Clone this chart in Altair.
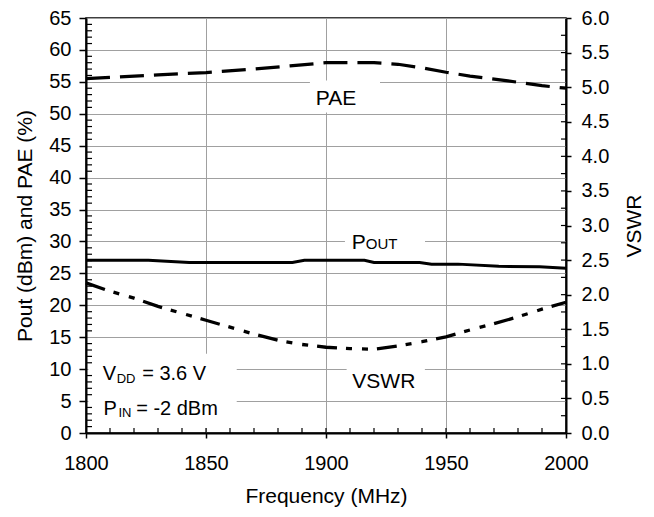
import altair as alt
import pandas as pd

FONT = "Liberation Sans"

# ---- series ----
freq_pout = [1800, 1826, 1843, 1886, 1891, 1916, 1920, 1939, 1944, 1955, 1972, 1989, 2000]
pout = [27.05, 27.05, 26.7, 26.7, 27.05, 27.05, 26.7, 26.7, 26.45, 26.45, 26.1, 26.05, 25.8]

freq_pae = [1800, 1830, 1850, 1870, 1885, 1900, 1920, 1930, 1940, 1950, 1960, 1975, 1990, 2000]
pae = [55.5, 56.1, 56.45, 57.0, 57.5, 58.0, 58.0, 57.75, 57.2, 56.5, 55.9, 55.2, 54.4, 54.0]

freq_vswr = [1800, 1810, 1820, 1830, 1840, 1850, 1860, 1870, 1880, 1890, 1900,
             1910, 1920, 1930, 1940, 1950, 1960, 1970, 1980, 1990, 2000]
vswr = [2.17, 2.05, 1.95, 1.83, 1.73, 1.63, 1.53, 1.43, 1.34, 1.28, 1.24,
        1.22, 1.21, 1.26, 1.32, 1.39, 1.49, 1.58, 1.68, 1.79, 1.89]

# ---- axes ----
x_ticks = [1800, 1850, 1900, 1950, 2000]
yl_ticks = [0, 5, 10, 15, 20, 25, 30, 35, 40, 45, 50, 55, 60, 65]
yr_ticks = [0.0, 0.5, 1.0, 1.5, 2.0, 2.5, 3.0, 3.5, 4.0, 4.5, 5.0, 5.5, 6.0]
left_minor = [v for v in range(1, 65) if v % 5]
bottom_minor = [1810, 1820, 1830, 1840, 1850, 1860, 1870, 1880, 1890, 1900,
                1910, 1920, 1930, 1940, 1950, 1960, 1970, 1980, 1990]
right_minor = [q * 0.25 for q in range(1, 24)]

# ---- annotations ----
center_text = ["PAE", "VSWR"]
center_f = [1904.2, 1924.1]
center_v = [51.3, 6.97]

piece_text = ["P", "OUT", "V", "DD", "= 3.6 V", "P", "IN", "= -2 dBm"]
piece_f = [1910.7, 1916.6, 1807.0, 1812.8, 1823.4, 1807.3, 1813.5, 1820.9]
piece_v = [28.84, 28.84, 8.26, 7.9, 8.26, 2.8, 2.55, 2.8]
piece_size = [21, 15, 20, 13, 20, 20, 13, 20]

# white label backgrounds that interrupt the grid
box_f1 = [1893.3, 1907.9, 1908.6, 1801.0]
box_f2 = [1922.5, 1941.25, 1941.2, 1862.8]
box_v1 = [50.2, 28.2, 5.6, 0.8]
box_v2 = [55.2, 31.8, 11.5, 12.4]

xscale = alt.Scale(domain=[1800, 2000], nice=False, zero=False)
ylscale = alt.Scale(domain=[0, 65], nice=False)
yrscale = alt.Scale(domain=[0, 6], nice=False)

xaxis = alt.Axis(values=x_ticks, title="Frequency (MHz)", grid=True, tickSize=5,
                 labelPadding=15, titlePadding=12, format="d", labelOverlap=False,
                 labelFlush=False)
ylaxis = alt.Axis(values=yl_ticks, title="Pout (dBm) and PAE (%)", grid=True, tickSize=7,
                  labelPadding=8, titlePadding=13, orient="left", labelOverlap=False,
                  labelFlush=False)
yraxis = alt.Axis(values=yr_ticks, title="VSWR", grid=False, tickSize=5, labelPadding=10,
                  titlePadding=15, orient="right", format=".1f", titleAngle=270,
                  titleBaseline="top", labelOverlap=False, labelFlush=False)

X = lambda f: alt.X(f, type="quantitative", scale=xscale, axis=xaxis)
YL = lambda f: alt.Y(f, type="quantitative", scale=ylscale, axis=ylaxis)
YR = lambda f: alt.Y(f, type="quantitative", scale=yrscale, axis=yraxis)

boxes = alt.Chart(pd.DataFrame({"f": box_f1, "f2": box_f2, "v": box_v1, "v2": box_v2})).mark_rect(
    color="white").encode(x=X("f"), x2="f2", y=YL("v"), y2="v2")

lticks = alt.Chart(pd.DataFrame({"v": left_minor, "f": [1800] * len(left_minor),
                                 "f2": [1802.5] * len(left_minor)})).mark_rule(
    color="black", strokeWidth=1.2).encode(x=X("f"), x2="f2", y=YL("v"))

bticks = alt.Chart(pd.DataFrame({"f": bottom_minor, "v": [0] * len(bottom_minor),
                                 "v2": [0.78] * len(bottom_minor)})).mark_rule(
    color="black", strokeWidth=1.2).encode(x=X("f"), y=YL("v"), y2="v2")

pae_line = alt.Chart(pd.DataFrame({"f": freq_pae, "v": pae})).mark_line(
    color="black", strokeWidth=3.2, strokeDash=[24, 10], strokeCap="butt").encode(x=X("f"), y=YL("v"))

pout_line = alt.Chart(pd.DataFrame({"f": freq_pout, "v": pout})).mark_line(
    color="black", strokeWidth=3).encode(x=X("f"), y=YL("v"))

labels_c = alt.Chart(pd.DataFrame({"f": center_f, "v": center_v, "t": center_text})).mark_text(
    align="center", baseline="alphabetic", font=FONT, fontSize=21, color="black").encode(
    x=X("f"), y=YL("v"), text="t:N")

labels_l = alt.Chart(pd.DataFrame({"f": piece_f, "v": piece_v, "t": piece_text, "s": piece_size})).mark_text(
    align="left", baseline="alphabetic", font=FONT, color="black").encode(
    x=X("f"), y=YL("v"), text="t:N", size=alt.Size("s:Q", scale=None, legend=None))

vswr_line = alt.Chart(pd.DataFrame({"f": freq_vswr, "r": vswr})).mark_line(
    color="black", strokeWidth=3.3, strokeDash=[20, 9, 6, 10, 6, 9], strokeCap="butt").encode(
    x=X("f"), y=YR("r"))

rticks = alt.Chart(pd.DataFrame({"r": right_minor, "f": [1997.9] * len(right_minor),
                                 "f2": [2000] * len(right_minor)})).mark_rule(
    color="black", strokeWidth=1.2).encode(x=X("f"), x2="f2", y=YR("r"))

left = alt.layer(boxes, lticks, bticks, pae_line, pout_line, labels_c, labels_l)
right = alt.layer(vswr_line, rticks)

chart = alt.layer(left, right).resolve_scale(y="independent").properties(
    width=480, height=415,
    autosize=alt.AutoSizeParams(type="none"),
    padding={"left": 78, "top": 10, "right": 80, "bottom": 76},
).configure_view(stroke="black", strokeWidth=1.5).configure_axis(
    labelFont=FONT, titleFont=FONT, labelFontSize=20, titleFontSize=21,
    labelColor="black", titleColor="black", titleFontWeight="normal",
    domainColor="black", domainWidth=2, tickColor="black", tickWidth=1.5,
    gridColor="#a0a0a0", gridWidth=1,
)

chart.save("out.html", embed_options={"renderer": "svg", "actions": False})
